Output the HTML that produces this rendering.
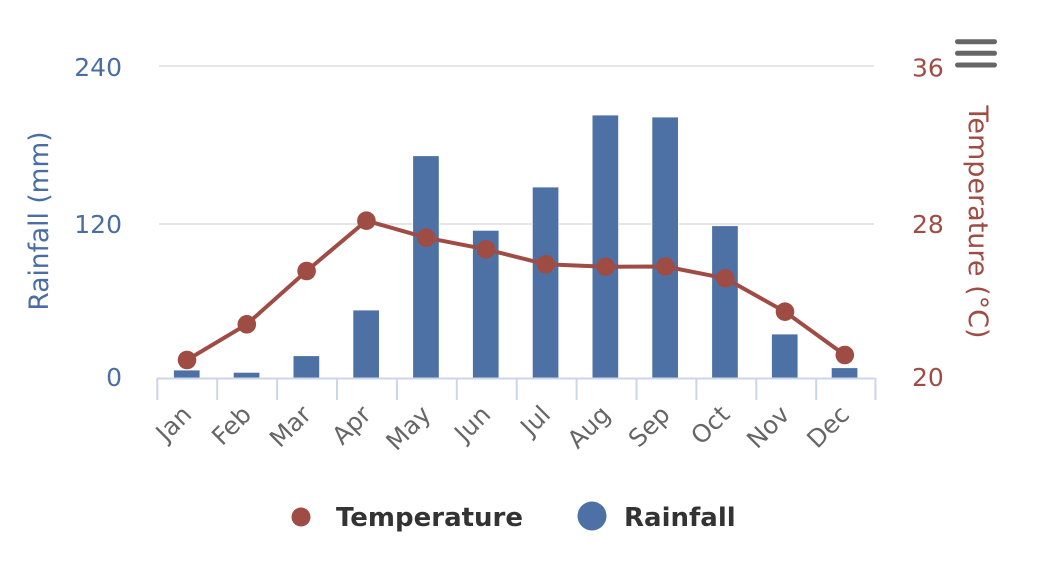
<!DOCTYPE html>
<html>
<head>
<meta charset="utf-8">
<style>
  html, body { margin:0; padding:0; background:#ffffff; }
  svg { display:block; }
  text { font-family: "DejaVu Sans", "Liberation Sans", sans-serif; }
</style>
</head>
<body>
<svg width="1042" height="564" viewBox="0 0 1042 564" xmlns="http://www.w3.org/2000/svg">
  <rect width="1042" height="564" fill="#ffffff"/>

  <!-- grid lines -->
  <line x1="159" y1="66" x2="874" y2="66" stroke="#e6e6e6" stroke-width="2"/>
  <line x1="159" y1="224" x2="874" y2="224" stroke="#e6e6e6" stroke-width="2"/>

  <!-- bars -->
  <g fill="#4d71a5" stroke="#ffffff" stroke-width="0.8">
    <rect x="173.5" y="370" width="26.5" height="8"/>
    <rect x="233.3" y="372.3" width="26.5" height="5.7"/>
    <rect x="293.1" y="355.7" width="26.5" height="22.3"/>
    <rect x="352.9" y="310" width="26.5" height="68"/>
    <rect x="412.7" y="155.7" width="26.5" height="222.3"/>
    <rect x="472.5" y="230.3" width="26.5" height="147.7"/>
    <rect x="532.3" y="187" width="26.5" height="191"/>
    <rect x="592.1" y="115" width="26.5" height="263"/>
    <rect x="651.9" y="117" width="26.5" height="261"/>
    <rect x="711.7" y="225.7" width="26.5" height="152.3"/>
    <rect x="771.5" y="334" width="26.5" height="44"/>
    <rect x="831.3" y="367.7" width="26.5" height="10.3"/>
  </g>

  <!-- x axis line and ticks -->
  <line x1="157" y1="378.5" x2="876" y2="378.5" stroke="#ccd6eb" stroke-width="2"/>
  <g stroke="#ccd6eb" stroke-width="2">
    <line x1="157.3" y1="378" x2="157.3" y2="400"/>
    <line x1="217.2" y1="378" x2="217.2" y2="400"/>
    <line x1="277.1" y1="378" x2="277.1" y2="400"/>
    <line x1="337" y1="378" x2="337" y2="400"/>
    <line x1="396.9" y1="378" x2="396.9" y2="400"/>
    <line x1="456.8" y1="378" x2="456.8" y2="400"/>
    <line x1="516.7" y1="378" x2="516.7" y2="400"/>
    <line x1="576.6" y1="378" x2="576.6" y2="400"/>
    <line x1="636.5" y1="378" x2="636.5" y2="400"/>
    <line x1="696.4" y1="378" x2="696.4" y2="400"/>
    <line x1="756.3" y1="378" x2="756.3" y2="400"/>
    <line x1="816.2" y1="378" x2="816.2" y2="400"/>
    <line x1="875.5" y1="378" x2="875.5" y2="400"/>
  </g>

  <!-- temperature line -->
  <polyline fill="none" stroke="#9f4c45" stroke-width="4" stroke-linejoin="round"
    points="187,360 246.8,324.3 306.6,271 366.4,220.7 426.2,237.7 486,249.3 545.8,264.3 605.6,266.7 665.4,266.5 725.2,278.3 785,311.7 844.8,355"/>
  <g fill="#9f4c45">
    <circle cx="187" cy="360" r="9.3"/>
    <circle cx="246.8" cy="324.3" r="9.3"/>
    <circle cx="306.6" cy="271" r="9.3"/>
    <circle cx="366.4" cy="220.7" r="9.3"/>
    <circle cx="426.2" cy="237.7" r="9.3"/>
    <circle cx="486" cy="249.3" r="9.3"/>
    <circle cx="545.8" cy="264.3" r="9.3"/>
    <circle cx="605.6" cy="266.7" r="9.3"/>
    <circle cx="665.4" cy="266.5" r="9.3"/>
    <circle cx="725.2" cy="278.3" r="9.3"/>
    <circle cx="785" cy="311.7" r="9.3"/>
    <circle cx="844.8" cy="355" r="9.3"/>
  </g>

  <!-- left axis labels -->
  <g fill="#4a6da4" font-size="25" text-anchor="end">
    <text x="122" y="76">240</text>
    <text x="122" y="233">120</text>
    <text x="122" y="386">0</text>
  </g>
  <text transform="translate(48,221) rotate(-90)" fill="#4a6da4" font-size="26.5" text-anchor="middle">Rainfall (mm)</text>

  <!-- right axis labels -->
  <g fill="#9f4c45" font-size="25" text-anchor="start">
    <text x="912" y="76.5">36</text>
    <text x="912" y="233">28</text>
    <text x="912" y="386">20</text>
  </g>
  <text transform="translate(969,222) rotate(90)" fill="#9f4c45" font-size="27" text-anchor="middle">Temperature (°C)</text>

  <!-- x axis labels -->
  <g fill="#666666" font-size="24.5" text-anchor="end">
    <text transform="translate(193,416) rotate(-45)">Jan</text>
    <text transform="translate(252.8,416) rotate(-45)">Feb</text>
    <text transform="translate(312.6,416) rotate(-45)">Mar</text>
    <text transform="translate(372.4,416) rotate(-45)">Apr</text>
    <text transform="translate(432.2,416) rotate(-45)">May</text>
    <text transform="translate(492,416) rotate(-45)">Jun</text>
    <text transform="translate(551.8,416) rotate(-45)">Jul</text>
    <text transform="translate(611.6,416) rotate(-45)">Aug</text>
    <text transform="translate(671.4,416) rotate(-45)">Sep</text>
    <text transform="translate(731.2,416) rotate(-45)">Oct</text>
    <text transform="translate(791,416) rotate(-45)">Nov</text>
    <text transform="translate(850.8,416) rotate(-45)">Dec</text>
  </g>

  <!-- legend -->
  <circle cx="301" cy="517" r="9.5" fill="#9f4c45"/>
  <text x="336" y="526" fill="#333333" font-size="26" font-weight="bold">Temperature</text>
  <circle cx="592" cy="516" r="14.5" fill="#4d71a5"/>
  <text x="624" y="526" fill="#333333" font-size="26" font-weight="bold">Rainfall</text>

  <!-- menu icon -->
  <g fill="#666666">
    <rect x="955" y="39.2" width="42" height="5" rx="2.5"/>
    <rect x="955" y="50.8" width="42" height="5" rx="2.5"/>
    <rect x="955" y="62.5" width="42" height="5" rx="2.5"/>
  </g>
</svg>
</body>
</html>
